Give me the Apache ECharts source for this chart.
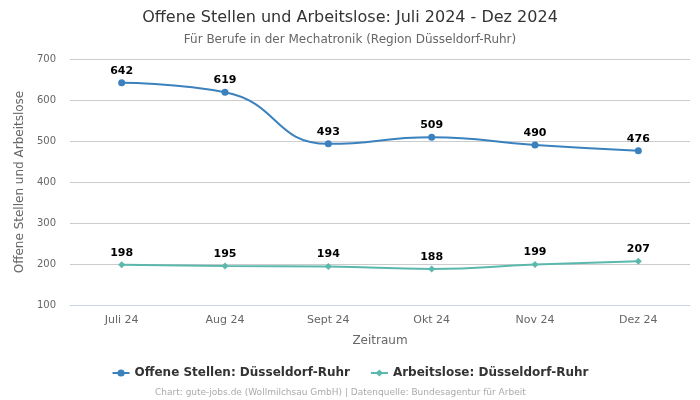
<!DOCTYPE html>
<html><head><meta charset="utf-8">
<script src="https://cdn.jsdelivr.net/npm/echarts@6/dist/echarts.min.js"></script>
<style>html,body{margin:0;padding:0;background:#fff}#c{width:700px;height:400px}</style>
</head><body><div id="c"></div>
<script>
const categories = ['Juli 24','Aug 24','Sept 24','Okt 24','Nov 24','Dez 24'];
const offeneStellen = [642, 619, 493, 509, 490, 476];
const arbeitslose = [198, 195, 194, 188, 199, 207];
const seriesNames = ['Offene Stellen: Düsseldorf-Ruhr','Arbeitslose: Düsseldorf-Ruhr'];
const font = 'DejaVu Sans';
const chart = echarts.init(document.getElementById('c'), null, {renderer:'canvas'});
chart.setOption({
  animation:false,
  textStyle:{fontFamily:font},
  title:[
    {text:'Offene Stellen und Arbeitslose: Juli 2024 - Dez 2024', left:'center', top:5,
     textStyle:{fontFamily:font, fontSize:16, fontWeight:'normal', color:'#333'}},
    {text:'Für Berufe in der Mechatronik (Region Düsseldorf-Ruhr)', left:'center', top:29,
     textStyle:{fontFamily:font, fontSize:12, fontWeight:'normal', color:'#666'}},
    {text:'Chart: gute-jobs.de (Wollmilchsau GmbH) | Datenquelle: Bundesagentur für Arbeit', left:150, top:383,
     textStyle:{fontFamily:font, fontSize:9, fontWeight:'normal', color:'#aaa'}}
  ],
  legend:{top:362, left:'center', itemGap:20, itemWidth:17, itemHeight:9,
    textStyle:{fontFamily:font, fontSize:12, fontWeight:'bold', color:'#333'},
    data:seriesNames},
  grid:{left:70, right:10, top:59, bottom:95},
  xAxis:{type:'category', data:categories, boundaryGap:true,
    name:'Zeitraum', nameLocation:'middle', nameGap:30,
    nameTextStyle:{fontSize:12, color:'#666'},
    axisLine:{lineStyle:{color:'#ccd6eb'}}, axisTick:{show:false},
    axisLabel:{color:'#666', fontSize:11, margin:10}},
  yAxis:{type:'value', min:100, max:700, interval:100,
    name:'Offene Stellen und Arbeitslose', nameLocation:'middle', nameGap:42,
    nameTextStyle:{fontSize:12, color:'#666'},
    axisLabel:{color:'#666', fontSize:10, margin:14},
    splitLine:{lineStyle:{color:'#ccc'}}},
  series:[
    {name:seriesNames[0], type:'line', data:offeneStellen, smooth:true,
     symbol:'circle', symbolSize:7, itemStyle:{color:'#3a81bd'}, lineStyle:{width:2},
     label:{show:true, position:'top', distance:3, fontWeight:'bold', fontSize:11, color:'#000'}},
    {name:seriesNames[1], type:'line', data:arbeitslose, smooth:true,
     symbol:'diamond', symbolSize:7, itemStyle:{color:'#5bb8ad'}, lineStyle:{width:2},
     label:{show:true, position:'top', distance:3, fontWeight:'bold', fontSize:11, color:'#000'}}
  ]
});
</script></body></html>
